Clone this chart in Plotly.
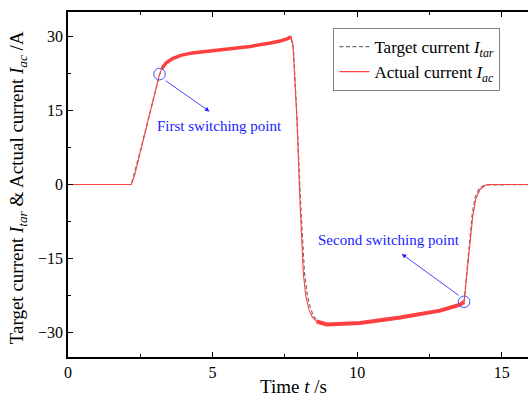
import plotly.graph_objects as go

# ---- data ----
t_actual = [0, 2.19, 2.3, 2.5, 2.9, 3.166, 3.25, 3.4, 3.6, 3.9, 4.3, 4.8, 5.26, 6.3, 7.0, 7.34, 7.6, 7.71,
            7.78, 7.85, 7.92, 8.03, 8.14, 8.22, 8.33, 8.45, 8.6, 8.95, 10.1, 11.49, 12.87, 13.56, 13.70,
            13.85, 14.0, 14.1, 14.25, 14.45, 14.6, 16.0]
i_actual = [0, 0, 1.8, 6.5, 15.9, 22.4, 23.6, 24.7, 25.5, 26.2, 26.7, 27.0, 27.3, 28.0, 28.7, 29.1, 29.6, 30.0,
            28.5, 20.0, 13.1, -4.4, -18.0, -22.5, -25.3, -26.9, -27.8, -28.4, -28.1, -27.0, -25.6, -24.4, -23.8,
            -15.0, -6.4, -3.0, -1.0, -0.1, 0, 0]

t_target = [0, 2.19, 2.5, 2.9, 3.166, 3.25, 3.4, 3.6, 3.9, 4.3, 4.8, 5.26, 6.3, 7.34, 7.71, 7.8, 7.92, 8.05, 8.18,
            8.28, 8.38, 8.5, 8.65, 8.95, 10.1, 11.49, 12.87, 13.56, 13.70, 13.85, 13.98, 14.08, 14.22, 14.42, 16.0]
i_target = [0, 0, 6.8, 16.0, 22.2, 23.4, 24.5, 25.4, 26.1, 26.6, 26.9, 27.3, 28.0, 29.1, 29.7, 27.3, 13.3, -4.4, -18.0,
            -22.5, -25.0, -26.8, -27.8, -28.4, -28.1, -27.0, -25.6, -24.4, -23.8, -15.0, -6.0, -2.6, -0.8, -0.1, 0]

switch_points_t = [3.166, 13.70]
switch_points_i = [22.4, -23.8]

x_ticks = [0, 5, 10, 15]
y_ticks = [-30, -15, 0, 15, 30]

FONT = "Liberation Serif, Times New Roman, serif"
RED = "#ff4040"
BLUE = "#1a1aff"

fig = go.Figure()
fig.add_trace(go.Scatter(x=t_target, y=i_target, mode="lines",
                         line=dict(color="#707070", width=1.2, dash="4px,2.5px"),
                         name="Target current <i>I</i><sub><i>tar</i></sub>"))
fig.add_trace(go.Scatter(x=t_actual, y=i_actual, mode="lines",
                         line=dict(color=RED, width=1.1),
                         name="Actual current <i>I</i><sub><i>ac</i></sub>"))

# noisy plateau bands (same measured data, thicker stroke)
i0 = t_actual.index(3.25); i1 = t_actual.index(7.71)
fig.add_trace(go.Scatter(x=t_actual[i0:i1 + 1], y=i_actual[i0:i1 + 1], mode="lines",
                         line=dict(color=RED, width=3.5), showlegend=False, hoverinfo="skip"))
j0 = t_actual.index(8.6); j1 = t_actual.index(13.70)
fig.add_trace(go.Scatter(x=t_actual[j0:j1 + 1], y=i_actual[j0:j1 + 1], mode="lines",
                         line=dict(color=RED, width=4), showlegend=False, hoverinfo="skip"))

# switching point circles
for tx, iy in zip(switch_points_t, switch_points_i):
    fig.add_shape(type="circle", xref="x", yref="y", xsizemode="pixel", ysizemode="pixel",
                  xanchor=tx, yanchor=iy, x0=-5.8, x1=5.8, y0=-5.8, y1=5.8,
                  line=dict(color="#4d4dff", width=1))

# arrows
fig.add_annotation(x=4.894, y=14.83, xref="x", yref="y", ax=-45.3, ay=-31.7, axref="pixel", ayref="pixel",
                   text="", showarrow=True, arrowhead=2, arrowsize=1.1, arrowwidth=0.8, arrowcolor=BLUE)
fig.add_annotation(x=11.545, y=-14.1, xref="x", yref="y", ax=58.3, ay=42.4, axref="pixel", ayref="pixel",
                   text="", showarrow=True, arrowhead=2, arrowsize=1.1, arrowwidth=0.8, arrowcolor=BLUE)

fig.add_annotation(x=5.23, y=11.9, xref="x", yref="y", text="First switching point", showarrow=False,
                   font=dict(family=FONT, size=15, color=BLUE))
fig.add_annotation(x=11.11, y=-11.2, xref="x", yref="y", text="Second switching point", showarrow=False,
                   font=dict(family=FONT, size=15, color=BLUE))

# axis titles
fig.add_annotation(x=(293 - 67.7) / 460.3, y=-(387 - 357.3) / 345.3, xref="paper", yref="paper",
                   text="Time <i>t</i> /s", showarrow=False, xanchor="center", yanchor="middle",
                   font=dict(family=FONT, size=19, color="black"))
fig.add_annotation(x=-(67.7 - 18) / 460.3, y=0.49, xref="paper", yref="paper", textangle=-90,
                   text="Target current <i>I</i><sub><i>tar</i></sub> &amp; Actual current <i>I</i><sub><i>ac</i></sub> /A",
                   showarrow=False, xanchor="center", yanchor="middle",
                   font=dict(family=FONT, size=19, color="black"))

axis_common = dict(showgrid=False, zeroline=False, ticks="inside", ticklen=5, tickwidth=1,
                   tickcolor="black", linecolor="black", linewidth=1.5,
                   tickfont=dict(family=FONT, size=16, color="black"))

fig.update_layout(
    width=528, height=402,
    margin=dict(l=68, r=0, t=12, b=45),
    paper_bgcolor="white", plot_bgcolor="white",
    xaxis=dict(range=[0, 15.91], tickvals=x_ticks, showline=True, mirror="ticks",
               minor=dict(dtick=2.5, tick0=0, ticks="inside", ticklen=3, tickcolor="black"),
               ticklabelstandoff=0, **axis_common),
    yaxis=dict(range=[-35, 35], tickvals=y_ticks, showline=True, mirror=False,
               minor=dict(dtick=7.5, tick0=0, ticks="inside", ticklen=3, tickcolor="black"),
               **axis_common),
    yaxis2=dict(range=[-35, 35], overlaying="y", side="right", tickvals=y_ticks, showticklabels=False,
                showline=False, showgrid=False, zeroline=False, ticks="inside", ticklen=5, tickwidth=1,
                tickcolor="black",
                minor=dict(dtick=7.5, tick0=0, ticks="inside", ticklen=3, tickcolor="black")),
    legend=dict(x=(333.3 - 67.7) / 460.3, y=(357.3 - 28) / 345.3, xanchor="left", yanchor="top",
                bgcolor="white", bordercolor="#808080", borderwidth=1,
                font=dict(family=FONT, size=17, color="black"), tracegroupgap=0),
    showlegend=True,
)

fig.write_html("out.html")
